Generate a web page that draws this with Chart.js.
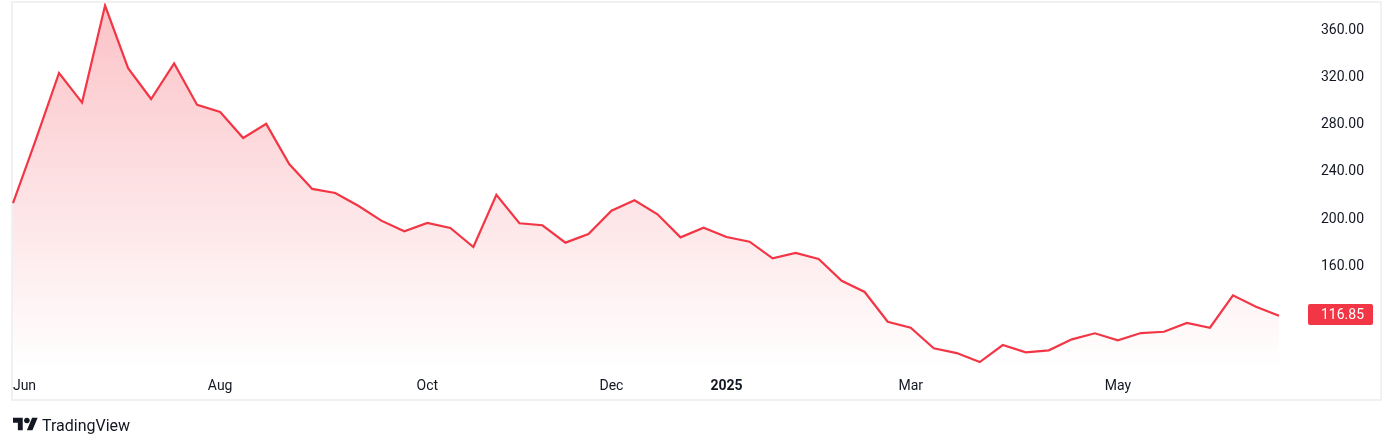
<!DOCTYPE html>
<html>
<head>
<meta charset="utf-8">
<script src="https://cdn.jsdelivr.net/npm/chart.js@4.4.1/dist/chart.umd.min.js"></script>
<style>
  html, body { margin: 0; padding: 0; background: #ffffff; }
  body { width: 1394px; height: 446px; position: relative; overflow: hidden; font-family: Roboto, "DejaVu Sans", sans-serif; }
  #frame { position: absolute; left: 11px; top: 1px; width: 1371px; height: 400px; box-sizing: border-box; border: 2px solid #f1f1f1; }
  #c { position: absolute; left: 0; top: 0; }
  #brand { position: absolute; left: 13px; top: 414px; height: 22px; display: flex; align-items: center; }
  #brand span { font-family: Roboto, sans-serif; font-size: 16px; color: #131722; margin-left: 4px; }
</style>
</head>
<body>
<div id="frame"></div>
<canvas id="c" width="1394" height="446"></canvas>
<div id="brand">
  <svg width="25" height="19.5" viewBox="0 0 36 28" xmlns="http://www.w3.org/2000/svg"><path d="M14 22H7V11H0V4h14v18zM28 22h-8l7.5-18h8L28 22z" fill="#131722"/><circle cx="20" cy="8" r="4" fill="#131722"/></svg>
  <span>TradingView</span>
</div>
<script>
// Weekly dates (categories)
const categories = [
  '2024-06-03','2024-06-10','2024-06-17','2024-06-24',
  '2024-07-01','2024-07-08','2024-07-15','2024-07-22','2024-07-29',
  '2024-08-05','2024-08-12','2024-08-19','2024-08-26',
  '2024-09-02','2024-09-09','2024-09-16','2024-09-23','2024-09-30',
  '2024-10-07','2024-10-14','2024-10-21','2024-10-28',
  '2024-11-04','2024-11-11','2024-11-18','2024-11-25',
  '2024-12-02','2024-12-09','2024-12-16','2024-12-23','2024-12-30',
  '2025-01-06','2025-01-13','2025-01-20','2025-01-27',
  '2025-02-03','2025-02-10','2025-02-17','2025-02-24',
  '2025-03-03','2025-03-10','2025-03-17','2025-03-24','2025-03-31',
  '2025-04-07','2025-04-14','2025-04-21','2025-04-28',
  '2025-05-05','2025-05-12','2025-05-19','2025-05-26',
  '2025-06-02','2025-06-09','2025-06-16','2025-06-23'
];
// Close prices
const prices = [
  212, 266, 322, 297, 379, 326, 300, 330, 295,
  289, 267, 279, 245,
  224, 220.6, 209.8, 197.2, 188.2,
  195.2, 191, 174.9, 219.1,
  195, 193.3, 178.6, 185.9,
  205.6, 214.4, 202.6, 183.1, 191.2,
  183.4, 179.4, 165.4, 169.9,
  164.8, 146.4, 136.9, 111.8,
  106.7, 89.3, 85.3, 77.7, 92.1,
  85.9, 87.6, 96.9, 102,
  96.1, 102.2, 103.3, 110.7,
  106.7, 134.1, 124.5, 116.85
];
const lastPrice = 116.85;
// Price-axis tick values
const yTickValues = [160, 200, 240, 280, 320, 360];
// Time-axis ticks (category index; Jun nudged inward like the reference) and texts
const xTickPositions = [0.5, 9, 18, 26, 31, 39, 48];
const xTickTexts = ['Jun', 'Aug', 'Oct', 'Dec', '2025', 'Mar', 'May'];

const RED = '#F23645';

const priceLabel = {
  id: 'priceLabel',
  afterDraw(chart) {
    const ctx = chart.ctx;
    const y = chart.scales.y.getPixelForValue(lastPrice);
    ctx.save();
    ctx.fillStyle = RED;
    const x0 = 1308, w = 65, h = 21;
    const top = Math.round(y - h / 2) - 1;
    ctx.beginPath();
    if (ctx.roundRect) ctx.roundRect(x0, top, w, h, 2); else ctx.rect(x0, top, w, h);
    ctx.fill();
    ctx.fillStyle = '#ffffff';
    ctx.font = '14px Roboto, sans-serif';
    ctx.textBaseline = 'middle';
    ctx.textAlign = 'left';
    ctx.fillText(lastPrice.toFixed(2), 1321, top + h / 2 + 0.5);
    ctx.restore();
  }
};

new Chart(document.getElementById('c'), {
  type: 'line',
  data: {
    labels: categories,
    datasets: [{
      data: prices,
      borderColor: RED,
      borderWidth: 2.2,
      pointRadius: 0,
      tension: 0,
      fill: 'start',
      backgroundColor(ctx) {
        const ca = ctx.chart.chartArea;
        if (!ca) return 'rgba(242,54,69,0.2)';
        const g = ctx.chart.ctx.createLinearGradient(0, ca.top, 0, ca.bottom);
        g.addColorStop(0, 'rgba(242,54,69,0.30)');
        g.addColorStop(1, 'rgba(242,54,69,0.0)');
        return g;
      }
    }]
  },
  options: {
    responsive: false,
    devicePixelRatio: 1,
    animation: false,
    layout: { padding: { left: 13, top: 3, right: 0, bottom: 46 } },
    plugins: { legend: { display: false }, tooltip: { enabled: false } },
    scales: {
      x: {
        type: 'category',
        offset: false,
        grid: { display: false, drawTicks: false },
        border: { display: false },
        afterFit(s) { s.height = 32; s.paddingLeft = 0; s.paddingRight = 0; },
        afterBuildTicks(s) { s.ticks = xTickPositions.map(v => ({ value: v })); },
        ticks: {
          autoSkip: false,
          maxRotation: 0,
          padding: 10,
          color: '#131722',
          font(ctx) {
            const t = ctx.tick && ctx.tick.label;
            return { family: 'Roboto, sans-serif', size: 14, weight: t === '2025' ? 'bold' : 'normal' };
          },
          callback(value, index) { return xTickTexts[index]; }
        }
      },
      y: {
        position: 'right',
        min: 72.67,
        max: 381.13,
        grid: { display: false, drawTicks: false },
        border: { display: false },
        afterFit(s) { s.width = 115; s.paddingTop = 0; s.paddingBottom = 0; },
        afterBuildTicks(s) { s.ticks = yTickValues.map(v => ({ value: v })); },
        ticks: {
          crossAlign: 'near',
          padding: 42,
          labelOffset: 2,
          color: '#131722',
          font: { family: 'Roboto, sans-serif', size: 14 },
          callback(v) { return Number(v).toFixed(2); }
        }
      }
    }
  },
  plugins: [priceLabel]
});
</script>
</body>
</html>
